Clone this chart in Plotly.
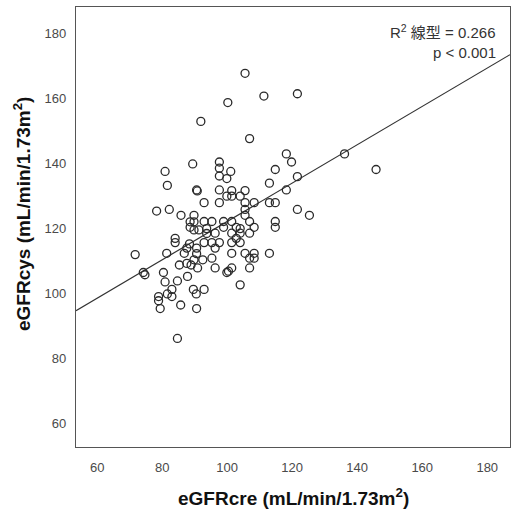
import plotly.graph_objects as go

# eGFRcre (x) and eGFRcys (y) values
egfr_cre = [105.5, 100.2, 111.3, 121.6, 91.9, 106.9, 118.2, 136.1,
            119.8, 89.4, 97.6, 97.6, 80.9, 101.1, 97.6, 99.9, 114.8, 121.6, 145.8,
            81.6, 90.6, 90.8, 97.6, 101.4, 105.5, 113.0, 118.2,
            99.9, 101.4, 104.0, 92.9, 97.6, 105.5, 108.3, 113.0, 114.8,
            105.5, 78.3, 82.2, 121.6, 85.8, 89.8, 105.5, 125.3,
            88.6, 89.8, 92.9, 95.3, 98.9, 101.4, 106.9, 114.8,
            88.6, 89.8, 93.7, 98.9, 102.8, 104.0, 108.3, 114.8, 91.3,
            96.3, 93.7, 101.4, 104.0, 106.9,
            84.0, 84.0, 92.9, 95.3, 97.6, 101.4, 104.0, 88.4, 102.8,
            87.6, 90.6, 96.3,
            71.7, 81.4, 86.8, 90.6, 101.4, 105.5, 108.3, 113.0,
            106.9, 108.3, 89.8, 92.5, 95.3, 87.6, 85.3, 88.9,
            90.9, 96.3, 101.4, 106.9, 74.2, 74.7, 80.4, 99.9, 100.4, 87.8,
            80.9, 84.7, 83.0, 89.6, 92.9, 81.6, 90.5, 104.0, 83.0, 78.9,
            78.9, 85.7, 79.4, 90.6, 84.7]
egfr_cys = [167.6, 158.6, 160.6, 161.3, 152.8, 147.5, 142.8, 142.8,
            140.3, 139.7, 140.3, 138.4, 137.4, 137.4, 136.0, 135.2, 138.0, 135.8, 138.0,
            133.1, 131.7, 131.4, 131.7, 131.5, 131.5, 133.8, 131.7,
            129.8, 129.8, 129.8, 127.8, 127.8, 127.8, 127.8, 127.8, 127.8,
            125.7, 125.2, 125.7, 125.7, 123.9, 123.9, 123.9, 123.9,
            121.9, 121.9, 122.0, 122.0, 122.0, 122.0, 122.0, 122.0,
            120.2, 119.4, 119.8, 120.2, 120.2, 119.8, 120.2, 120.2, 119.4,
            118.4, 118.3, 118.4, 118.4, 118.4,
            116.8, 115.5, 115.5, 115.5, 115.5, 115.5, 115.5, 115.1, 116.8,
            113.8, 113.8, 113.8,
            111.8, 112.2, 112.2, 112.1, 112.2, 112.2, 112.2, 112.2,
            110.7, 110.7, 110.2, 110.2, 110.7, 109.1, 108.6, 108.6,
            107.7, 107.7, 107.7, 107.7, 106.3, 105.6, 106.3, 106.3, 106.7, 105.1,
            103.4, 103.7, 101.1, 101.1, 101.1, 99.7, 99.7, 102.5, 98.9, 98.9,
            97.6, 96.3, 95.2, 95.2, 86.0]

# Linear fit
fit_slope = 0.59
fit_intercept = 63.0
x_range = [53.5, 187.0]
y_range = [52.6, 188.0]
x_ticks = [60, 80, 100, 120, 140, 160, 180]
y_ticks = [60, 80, 100, 120, 140, 160, 180]
fit_label = "R<sup>2</sup> 線型 = 0.266"
p_label = "p < 0.001"
x_title = "<b>eGFRcre (mL/min/1.73m<sup>2</sup>)</b>"
y_title = "<b>eGFRcys (mL/min/1.73m<sup>2</sup>)</b>"

fit_x = x_range
fit_y = [fit_intercept + fit_slope * v for v in fit_x]

fig = go.Figure()
fig.add_trace(go.Scatter(
    x=fit_x, y=fit_y, mode="lines",
    line=dict(color="#333333", width=1.2),
    hoverinfo="skip", showlegend=False))
fig.add_trace(go.Scatter(
    x=egfr_cre, y=egfr_cys, mode="markers",
    marker=dict(symbol="circle-open", size=8, color="#2a2a2a",
                line=dict(width=1.3, color="#2a2a2a")),
    showlegend=False))

axis_common = dict(
    showgrid=False, zeroline=False, showline=True, mirror=True,
    linecolor="#555555", linewidth=1.2, ticks="",
    tickfont=dict(family="Liberation Sans, Arial", size=13, color="#4a4a4a"),
)
fig.update_xaxes(range=x_range, tickvals=x_ticks, ticklabelstandoff=8, **axis_common)
fig.update_yaxes(range=y_range, tickvals=y_ticks, ticklabelstandoff=6, **axis_common)

ann_font = dict(family="Liberation Sans, Noto Sans CJK JP", size=15, color="#333333")
fig.add_annotation(
    x=1, y=1, xref="paper", yref="paper", xanchor="right", yanchor="middle",
    xshift=-12, yshift=-24, showarrow=False, text=fit_label, font=ann_font)
fig.add_annotation(
    x=1, y=1, xref="paper", yref="paper", xanchor="right", yanchor="middle",
    xshift=-12, yshift=-45, showarrow=False, text=p_label, font=ann_font)

title_font = dict(family="Liberation Sans, Arial", size=19, color="#111111")
fig.add_annotation(
    x=0.5, y=0, xref="paper", yref="paper", xanchor="center", yanchor="middle",
    yshift=-50, showarrow=False, text=x_title, font=title_font)
fig.add_annotation(
    x=0, y=0.5, xref="paper", yref="paper", xanchor="center", yanchor="middle",
    xshift=-54, yshift=13, showarrow=False, textangle=-90,
    text=y_title, font=title_font)

fig.update_layout(
    width=511, height=515,
    margin=dict(l=76, r=1, t=7, b=68),
    paper_bgcolor="white", plot_bgcolor="white",
)
fig.write_html("out.html")
